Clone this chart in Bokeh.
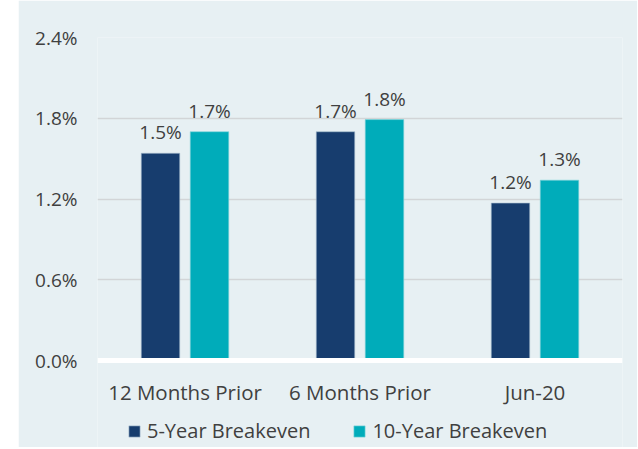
from bokeh.plotting import figure
from bokeh.models import (ColumnDataSource, FactorRange, Legend, LegendItem, Spacer,
                          FixedTicker, LabelSet, Range1d, CustomJSTickFormatter)
from bokeh.core.properties import value
from bokeh.transform import dodge
from bokeh.layouts import row
from bokeh.embed import file_html
from bokeh.resources import INLINE

categories = ["12 Months Prior", "6 Months Prior", "Jun-20"]
five_year = [1.54, 1.70, 1.17]
ten_year = [1.70, 1.79, 1.34]
y_ticks = [0.0, 0.6, 1.2, 1.8, 2.4]

NAVY = "#173D6E"
TEAL = "#00ACBA"
BG = "#E7F0F3"
TXT = "#404040"
FONT = "Open Sans"

src = ColumnDataSource(dict(
    cat=categories,
    five=five_year,
    ten=ten_year,
    five_lbl=[f"{v:.1f}%" for v in five_year],
    ten_lbl=[f"{v:.1f}%" for v in ten_year],
))

# frame extends below zero so the legend can sit inside it; the x axis is pinned at 0
p = figure(x_range=FactorRange(*categories, range_padding=0), y_range=Range1d(-0.646, 2.4),
           width=619, height=447, output_backend="svg", toolbar_location=None,
           min_border_left=79, min_border_right=15, min_border_top=37, min_border_bottom=0)
p.background_fill_color = BG
p.border_fill_color = BG
p.outline_line_color = None

r5 = p.vbar(x=dodge("cat", -0.14, range=p.x_range), top="five", width=0.22, source=src,
            fill_color=NAVY, line_color="#A9C0D0", line_width=0.6)
r10 = p.vbar(x=dodge("cat", 0.14, range=p.x_range), top="ten", width=0.22, source=src,
             fill_color=TEAL, line_color="#7FD3DA", line_width=0.6)

for col, off, top in (("five_lbl", -0.14, "five"), ("ten_lbl", 0.14, "ten")):
    lbl = LabelSet(x=dodge("cat", off, range=p.x_range), y=top, text=col, source=src,
                   text_align="center", text_baseline="alphabetic", y_offset=14,
                   text_font=value(FONT), text_font_size=value("19px"), text_color=TXT)
    p.add_layout(lbl)

p.xgrid.grid_line_color = None
p.ygrid.grid_line_color = "#D2D5D7"
p.ygrid.grid_line_width = 1.5
p.ygrid.ticker = FixedTicker(ticks=y_ticks[1:])

p.yaxis.ticker = FixedTicker(ticks=y_ticks)
p.yaxis.formatter = CustomJSTickFormatter(code="return tick.toFixed(1) + '%';")
p.yaxis.axis_line_color = None
p.yaxis.major_tick_line_color = None
p.yaxis.minor_tick_line_color = None
p.yaxis.major_label_standoff = 14
p.yaxis.major_label_text_font = FONT
p.yaxis.major_label_text_font_size = "19px"
p.yaxis.major_label_text_color = TXT

p.xaxis.fixed_location = 0
p.xaxis.axis_line_color = "white"
p.xaxis.axis_line_width = 5
p.xaxis.major_tick_line_color = None
p.xaxis.minor_tick_line_color = None
p.xaxis.major_label_standoff = 11
p.xaxis.major_label_text_font = FONT
p.xaxis.major_label_text_font_size = "20.5px"
p.xaxis.major_label_text_color = TXT

legend = Legend(items=[LegendItem(label="5-Year Breakeven", renderers=[r5]),
                       LegendItem(label="10-Year Breakeven", renderers=[r10])],
                orientation="horizontal", location=(30, 3),
                label_text_font=FONT, label_text_font_size="20px", label_text_color=TXT,
                glyph_width=14, glyph_height=14, spacing=42, label_standoff=6,
                background_fill_alpha=0, border_line_alpha=0, padding=0, margin=0)
p.add_layout(legend, "center")

layout = row(Spacer(width=18, height=447), p)
open("out.html", "w").write(file_html(layout, INLINE))
